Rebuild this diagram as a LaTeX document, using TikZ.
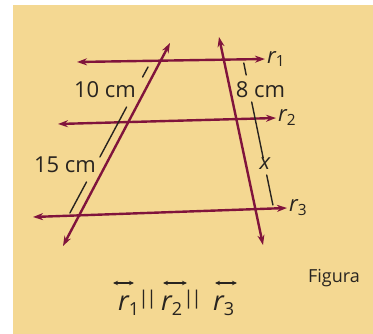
\documentclass[tikz,border=0pt]{standalone}
\usepackage{amsmath}
\usepackage{fontspec}
\setmainfont{Open Sans}
\usetikzlibrary{arrows.meta}

\definecolor{papel}{RGB}{244,216,146}
\definecolor{reta}{RGB}{128,20,60}
\definecolor{tinta}{RGB}{40,36,32}

\newcommand{\rsub}[1]{{\itshape r}\raisebox{-5pt}{\fontsize{18}{20}\selectfont #1}}
\newcommand{\barras}{{\fontsize{19}{22}\selectfont |\kern-2.5pt|}}

\begin{document}
\begin{tikzpicture}[x=1pt, y=-1pt, line cap=round,
    every node/.style={font=\fontsize{22}{26}\selectfont, text=tinta, inner sep=0pt},
    paralela/.style={draw=reta, line width=2.4pt, {Stealth[length=10pt,width=7pt]}-{Stealth[length=10pt,width=7pt]}},
    cota/.style={draw=tinta, line width=1.4pt},
    seta/.style={draw=tinta, line width=1.2pt, {Stealth[length=5pt,width=4.5pt]}-{Stealth[length=5pt,width=4.5pt]}}]
    \useasboundingbox (0,0) rectangle (373,334);
    \fill[papel] (13,5) rectangle (373,334);

    % the three parallels and the two transversals
    \coordinate (r1a) at (77,62);   \coordinate (r1b) at (265,59);
    \coordinate (r2a) at (58,124);  \coordinate (r2b) at (276,118);
    \coordinate (r3a) at (33,217);  \coordinate (r3b) at (287,208);
    \coordinate (ta) at (63,246);   \coordinate (tb) at (170,43);
    \coordinate (sa) at (219,37);   \coordinate (sb) at (263,245);

    \draw[paralela] (r1a) -- (r1b);
    \draw[paralela] (r2a) -- (r2b);
    \draw[paralela] (r3a) -- (r3b);
    \draw[paralela] (ta) -- (tb);
    \draw[paralela] (sa) -- (sb);

    \node[anchor=west] (lr1) at ([xshift=2pt]r1b) {$\text{\itshape r}_{\text{1}}$};
    \node[anchor=west] (lr2) at ([xshift=2pt]r2b) {$\text{\itshape r}_{\text{2}}$};
    \node[anchor=west] (lr3) at ([xshift=2pt]r3b) {$\text{\itshape r}_{\text{3}}$};

    % left measures
    \coordinate (a1) at (148,67);    \coordinate (a2) at (142.6,77);
    \coordinate (a3) at (126.6,107); \coordinate (a4) at (99.9,157);
    \coordinate (a5) at (86.5,182);  \coordinate (a6) at (69.9,213);
    \draw[cota] (a1) -- (a2);
    \draw[cota] (a3) -- (a4);
    \draw[cota] (a5) -- (a6);
    \node (dez) at (105,89.5) {10 cm};
    \node (quinze) at (65,165) {15 cm};

    % right measures
    \coordinate (b1) at (243.8,63);  \coordinate (b2) at (246.2,75);
    \coordinate (b3) at (251.7,102); \coordinate (b4) at (263.2,158);
    \coordinate (b5) at (266.7,175); \coordinate (b6) at (272.9,205);
    \draw[cota] (b1) -- (b2);
    \draw[cota] (b3) -- (b4);
    \draw[cota] (b5) -- (b6);
    \node (oito) at (260.5,90) {8 cm};
    \node (x) at (265,164) {\itshape x};

    % r1 || r2 || r3
    \node[anchor=base west] (v1) at (118,311) {\fontsize{27}{30}\selectfont\rsub{1}};
    \node (p1) at (147.5,300) {\barras};
    \node[anchor=base west] (v2) at (161,311) {\fontsize{27}{30}\selectfont\rsub{2}};
    \node (p2) at (192.5,300) {\barras};
    \node[anchor=base west] (v3) at (213,311) {\fontsize{27}{30}\selectfont\rsub{3}};
    \coordinate (s1a) at (113,283); \coordinate (s1b) at (134,283);
    \coordinate (s2a) at (163,283); \coordinate (s2b) at (187,283);
    \coordinate (s3a) at (215,283); \coordinate (s3b) at (237,283);
    \draw[seta] (s1a) -- (s1b);
    \draw[seta] (s2a) -- (s2b);
    \draw[seta] (s3a) -- (s3b);

    \node (fig) at (334,278) {\fontsize{18}{22}\selectfont Figura};
\end{tikzpicture}
\end{document}
